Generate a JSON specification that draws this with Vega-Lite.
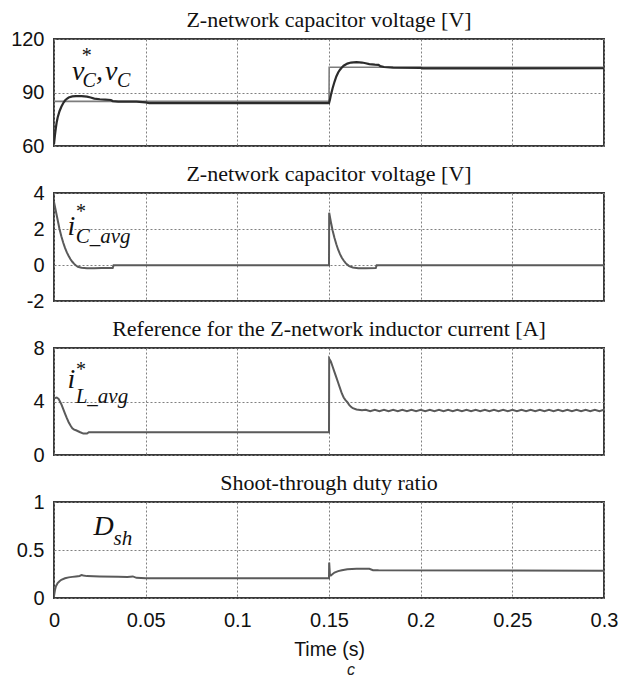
{
  "$schema": "https://vega.github.io/schema/vega-lite/v6.json",
  "padding": {"left": 8, "top": 8, "right": 10, "bottom": 2},
  "background": "white",
  "spacing": 5,
  "title": {"text": "c", "orient": "bottom", "anchor": "middle", "font": "Liberation Sans", "fontStyle": "italic", "fontSize": 16, "fontWeight": "normal", "color": "#222", "offset": 2, "dx": 22},
  "datasets": {
    "vc_ref": [
      {"t": 0, "v": 85}, {"t": 0.15, "v": 85}, {"t": 0.1501, "v": 104.2}, {"t": 0.3, "v": 104.2}
    ],
    "vc": [
      {"t": 0, "v": 61}, {"t": 0.0005, "v": 66}, {"t": 0.001, "v": 70}, {"t": 0.0015, "v": 73.5},
      {"t": 0.002, "v": 76}, {"t": 0.003, "v": 79.5}, {"t": 0.004, "v": 82}, {"t": 0.005, "v": 84},
      {"t": 0.006, "v": 85.5}, {"t": 0.007, "v": 86.5}, {"t": 0.008, "v": 87.2}, {"t": 0.01, "v": 87.8},
      {"t": 0.012, "v": 88}, {"t": 0.015, "v": 88}, {"t": 0.018, "v": 87.7}, {"t": 0.02, "v": 87.2},
      {"t": 0.022, "v": 86.6}, {"t": 0.025, "v": 86.2}, {"t": 0.028, "v": 86}, {"t": 0.031, "v": 85.8},
      {"t": 0.032, "v": 85.2}, {"t": 0.035, "v": 84.9}, {"t": 0.045, "v": 84.9}, {"t": 0.05, "v": 84.5},
      {"t": 0.052, "v": 84}, {"t": 0.1, "v": 84}, {"t": 0.12, "v": 84}, {"t": 0.15, "v": 84},
      {"t": 0.1505, "v": 86}, {"t": 0.151, "v": 88.5}, {"t": 0.152, "v": 92.5}, {"t": 0.153, "v": 96},
      {"t": 0.154, "v": 99}, {"t": 0.155, "v": 101.2}, {"t": 0.156, "v": 102.8}, {"t": 0.157, "v": 104},
      {"t": 0.158, "v": 105}, {"t": 0.16, "v": 106.2}, {"t": 0.162, "v": 106.8}, {"t": 0.165, "v": 107},
      {"t": 0.168, "v": 106.8}, {"t": 0.17, "v": 106.4}, {"t": 0.172, "v": 105.9}, {"t": 0.175, "v": 105.6},
      {"t": 0.177, "v": 105.5}, {"t": 0.178, "v": 104.8}, {"t": 0.18, "v": 104.3}, {"t": 0.185, "v": 104},
      {"t": 0.2, "v": 103.8}, {"t": 0.201, "v": 103.5}, {"t": 0.25, "v": 103.5}, {"t": 0.3, "v": 103.6}
    ],
    "ic": [
      {"t": 0, "v": 3.5}, {"t": 0.001, "v": 3.0}, {"t": 0.002, "v": 2.5}, {"t": 0.003, "v": 2.0},
      {"t": 0.004, "v": 1.6}, {"t": 0.005, "v": 1.25}, {"t": 0.006, "v": 0.95}, {"t": 0.007, "v": 0.7},
      {"t": 0.008, "v": 0.5}, {"t": 0.009, "v": 0.32}, {"t": 0.01, "v": 0.18}, {"t": 0.011, "v": 0.06},
      {"t": 0.012, "v": -0.03}, {"t": 0.013, "v": -0.1}, {"t": 0.015, "v": -0.15}, {"t": 0.018, "v": -0.18},
      {"t": 0.022, "v": -0.18}, {"t": 0.026, "v": -0.17}, {"t": 0.032, "v": -0.17}, {"t": 0.0325, "v": -0.02},
      {"t": 0.15, "v": -0.02}, {"t": 0.1501, "v": 2.9}, {"t": 0.151, "v": 2.4}, {"t": 0.152, "v": 1.9},
      {"t": 0.153, "v": 1.5}, {"t": 0.154, "v": 1.15}, {"t": 0.155, "v": 0.85}, {"t": 0.156, "v": 0.6},
      {"t": 0.157, "v": 0.4}, {"t": 0.158, "v": 0.25}, {"t": 0.159, "v": 0.12}, {"t": 0.16, "v": 0.02},
      {"t": 0.161, "v": -0.06}, {"t": 0.163, "v": -0.14}, {"t": 0.166, "v": -0.18}, {"t": 0.17, "v": -0.18},
      {"t": 0.1755, "v": -0.17}, {"t": 0.176, "v": -0.02}, {"t": 0.3, "v": -0.02}
    ],
    "il": [
      {"t": 0, "v": 4.25}, {"t": 0.0015, "v": 4.3}, {"t": 0.0025, "v": 4.2}, {"t": 0.004, "v": 3.8},
      {"t": 0.005, "v": 3.45}, {"t": 0.006, "v": 3.1}, {"t": 0.007, "v": 2.75}, {"t": 0.008, "v": 2.45},
      {"t": 0.009, "v": 2.2}, {"t": 0.01, "v": 2.0}, {"t": 0.011, "v": 1.9}, {"t": 0.012, "v": 1.85},
      {"t": 0.014, "v": 1.72}, {"t": 0.016, "v": 1.6}, {"t": 0.018, "v": 1.6}, {"t": 0.019, "v": 1.7},
      {"t": 0.15, "v": 1.7}, {"t": 0.1501, "v": 7.2}, {"t": 0.151, "v": 7.0}, {"t": 0.152, "v": 6.6},
      {"t": 0.153, "v": 6.2}, {"t": 0.154, "v": 5.8}, {"t": 0.155, "v": 5.4}, {"t": 0.156, "v": 5.0},
      {"t": 0.157, "v": 4.6}, {"t": 0.158, "v": 4.3}, {"t": 0.159, "v": 4.1}, {"t": 0.16, "v": 3.95},
      {"t": 0.161, "v": 3.75}, {"t": 0.162, "v": 3.6}, {"t": 0.163, "v": 3.5}, {"t": 0.165, "v": 3.4},
      {"t": 0.168, "v": 3.35},
      {"t": 0.17, "v": 3.38}, {"t": 0.1725, "v": 3.27}, {"t": 0.175, "v": 3.38}, {"t": 0.1775, "v": 3.27},
      {"t": 0.18, "v": 3.38}, {"t": 0.1825, "v": 3.27}, {"t": 0.185, "v": 3.38}, {"t": 0.1875, "v": 3.27},
      {"t": 0.19, "v": 3.38}, {"t": 0.1925, "v": 3.27}, {"t": 0.195, "v": 3.38}, {"t": 0.1975, "v": 3.27},
      {"t": 0.2, "v": 3.38}, {"t": 0.2025, "v": 3.27}, {"t": 0.205, "v": 3.38}, {"t": 0.2075, "v": 3.27},
      {"t": 0.21, "v": 3.38}, {"t": 0.2125, "v": 3.27}, {"t": 0.215, "v": 3.38}, {"t": 0.2175, "v": 3.27},
      {"t": 0.22, "v": 3.38}, {"t": 0.2225, "v": 3.27}, {"t": 0.225, "v": 3.38}, {"t": 0.2275, "v": 3.27},
      {"t": 0.23, "v": 3.38}, {"t": 0.2325, "v": 3.27}, {"t": 0.235, "v": 3.38}, {"t": 0.2375, "v": 3.27},
      {"t": 0.24, "v": 3.38}, {"t": 0.2425, "v": 3.27}, {"t": 0.245, "v": 3.38}, {"t": 0.2475, "v": 3.27},
      {"t": 0.25, "v": 3.38}, {"t": 0.2525, "v": 3.27}, {"t": 0.255, "v": 3.38}, {"t": 0.2575, "v": 3.27},
      {"t": 0.26, "v": 3.38}, {"t": 0.2625, "v": 3.27}, {"t": 0.265, "v": 3.38}, {"t": 0.2675, "v": 3.27},
      {"t": 0.27, "v": 3.38}, {"t": 0.2725, "v": 3.27}, {"t": 0.275, "v": 3.38}, {"t": 0.2775, "v": 3.27},
      {"t": 0.28, "v": 3.38}, {"t": 0.2825, "v": 3.27}, {"t": 0.285, "v": 3.38}, {"t": 0.2875, "v": 3.27},
      {"t": 0.29, "v": 3.38}, {"t": 0.2925, "v": 3.27}, {"t": 0.295, "v": 3.38}, {"t": 0.2975, "v": 3.27},
      {"t": 0.3, "v": 3.38}
    ],
    "dsh": [
      {"t": 0, "v": 0.02}, {"t": 0.0005, "v": 0.08}, {"t": 0.001, "v": 0.12}, {"t": 0.002, "v": 0.155},
      {"t": 0.003, "v": 0.175}, {"t": 0.004, "v": 0.19}, {"t": 0.006, "v": 0.205}, {"t": 0.008, "v": 0.215},
      {"t": 0.01, "v": 0.22}, {"t": 0.012, "v": 0.225}, {"t": 0.014, "v": 0.23}, {"t": 0.015, "v": 0.24},
      {"t": 0.016, "v": 0.235}, {"t": 0.018, "v": 0.228}, {"t": 0.025, "v": 0.225}, {"t": 0.035, "v": 0.222},
      {"t": 0.04, "v": 0.22}, {"t": 0.043, "v": 0.225}, {"t": 0.045, "v": 0.21}, {"t": 0.05, "v": 0.205},
      {"t": 0.15, "v": 0.205}, {"t": 0.1501, "v": 0.37}, {"t": 0.1505, "v": 0.24}, {"t": 0.151, "v": 0.235},
      {"t": 0.152, "v": 0.25}, {"t": 0.153, "v": 0.265}, {"t": 0.155, "v": 0.28}, {"t": 0.157, "v": 0.29},
      {"t": 0.16, "v": 0.3}, {"t": 0.165, "v": 0.305}, {"t": 0.172, "v": 0.305}, {"t": 0.174, "v": 0.29},
      {"t": 0.177, "v": 0.288}, {"t": 0.3, "v": 0.285}
    ]
  },
  "vconcat": [
    {
      "title": "Z-network capacitor voltage [V]",
      "width": 550,
      "height": 107,
      "layer": [
        {
          "data": {"name": "vc_ref"},
          "mark": {"type": "line", "color": "#7d7d7d", "strokeWidth": 1.6, "clip": true},
          "encoding": {
            "x": {"field": "t", "type": "quantitative", "scale": {"domain": [0, 0.3], "nice": false, "zero": false},
                  "axis": {"values": [0, 0.05, 0.1, 0.15, 0.2, 0.25, 0.3], "tickCount": 20, "labels": false, "title": null, "minExtent": 0, "maxExtent": 0}},
            "y": {"field": "v", "type": "quantitative", "scale": {"domain": [60, 120], "nice": false, "zero": false},
                  "axis": {"values": [60, 90, 120], "tickCount": 10, "title": null, "minExtent": 45, "maxExtent": 45, "labelOverlap": false, "labelExpr": "'' + datum.value"}}
          }
        },
        {
          "data": {"name": "vc"},
          "mark": {"type": "line", "color": "#2b2b2b", "strokeWidth": 2.2, "clip": true},
          "encoding": {"x": {"field": "t", "type": "quantitative"}, "y": {"field": "v", "type": "quantitative"}}
        },
        {
          "data": {"values": [{"t": 0.0132, "v": 97, "txt": "v"}, {"t": 0.0248, "v": 97, "txt": ","}, {"t": 0.0312, "v": 97, "txt": "v"}]},
          "mark": {"type": "text", "font": "Liberation Serif", "fontStyle": "italic", "fontSize": 28, "color": "#111", "baseline": "alphabetic", "align": "center"},
          "encoding": {"x": {"field": "t", "type": "quantitative"}, "y": {"field": "v", "type": "quantitative"}, "text": {"field": "txt"}}
        },
        {
          "data": {"values": [{"t": 0.0192, "v": 93, "txt": "C"}, {"t": 0.0380, "v": 93, "txt": "C"}]},
          "mark": {"type": "text", "font": "Liberation Serif", "fontStyle": "italic", "fontSize": 20, "color": "#111", "baseline": "alphabetic", "align": "center"},
          "encoding": {"x": {"field": "t", "type": "quantitative"}, "y": {"field": "v", "type": "quantitative"}, "text": {"field": "txt"}}
        },
        {
          "data": {"values": [{"t": 0.0178, "v": 107, "txt": "*"}]},
          "mark": {"type": "text", "font": "Liberation Serif", "fontSize": 20, "color": "#111", "baseline": "alphabetic", "align": "center"},
          "encoding": {"x": {"field": "t", "type": "quantitative"}, "y": {"field": "v", "type": "quantitative"}, "text": {"field": "txt"}}
        }
      ]
    },
    {
      "title": "Z-network capacitor voltage [V]",
      "width": 550,
      "height": 108,
      "layer": [
        {
          "data": {"name": "ic"},
          "mark": {"type": "line", "color": "#5a5a5a", "strokeWidth": 2, "clip": true},
          "encoding": {
            "x": {"field": "t", "type": "quantitative", "scale": {"domain": [0, 0.3], "nice": false, "zero": false},
                  "axis": {"values": [0, 0.05, 0.1, 0.15, 0.2, 0.25, 0.3], "tickCount": 20, "labels": false, "title": null, "minExtent": 0, "maxExtent": 0}},
            "y": {"field": "v", "type": "quantitative", "scale": {"domain": [-2, 4], "nice": false, "zero": false},
                  "axis": {"values": [-2, 0, 2, 4], "tickCount": 10, "title": null, "minExtent": 45, "maxExtent": 45, "labelOverlap": false, "labelExpr": "'' + datum.value"}}
          }
        },
        {
          "data": {"values": [{"t": 0.0095, "v": 1.67, "txt": "i"}]},
          "mark": {"type": "text", "font": "Liberation Serif", "fontStyle": "italic", "fontSize": 28, "color": "#111", "baseline": "alphabetic", "align": "center"},
          "encoding": {"x": {"field": "t", "type": "quantitative"}, "y": {"field": "v", "type": "quantitative"}, "text": {"field": "txt"}}
        },
        {
          "data": {"values": [{"t": 0.0118, "v": 1.2, "txt": "C_avg"}]},
          "mark": {"type": "text", "font": "Liberation Serif", "fontStyle": "italic", "fontSize": 21, "color": "#111", "baseline": "alphabetic", "align": "left"},
          "encoding": {"x": {"field": "t", "type": "quantitative"}, "y": {"field": "v", "type": "quantitative"}, "text": {"field": "txt"}}
        },
        {
          "data": {"values": [{"t": 0.0147, "v": 2.6, "txt": "*"}]},
          "mark": {"type": "text", "font": "Liberation Serif", "fontSize": 20, "color": "#111", "baseline": "alphabetic", "align": "center"},
          "encoding": {"x": {"field": "t", "type": "quantitative"}, "y": {"field": "v", "type": "quantitative"}, "text": {"field": "txt"}}
        }
      ]
    },
    {
      "title": "Reference for the Z-network inductor current [A]",
      "width": 550,
      "height": 107,
      "layer": [
        {
          "data": {"name": "il"},
          "mark": {"type": "line", "color": "#5a5a5a", "strokeWidth": 2, "clip": true},
          "encoding": {
            "x": {"field": "t", "type": "quantitative", "scale": {"domain": [0, 0.3], "nice": false, "zero": false},
                  "axis": {"values": [0, 0.05, 0.1, 0.15, 0.2, 0.25, 0.3], "tickCount": 20, "labels": false, "title": null, "minExtent": 0, "maxExtent": 0}},
            "y": {"field": "v", "type": "quantitative", "scale": {"domain": [0, 8], "nice": false, "zero": false},
                  "axis": {"values": [0, 4, 8], "tickCount": 10, "title": null, "minExtent": 45, "maxExtent": 45, "labelOverlap": false, "labelExpr": "'' + datum.value"}}
          }
        },
        {
          "data": {"values": [{"t": 0.0095, "v": 5.0, "txt": "i"}]},
          "mark": {"type": "text", "font": "Liberation Serif", "fontStyle": "italic", "fontSize": 28, "color": "#111", "baseline": "alphabetic", "align": "center"},
          "encoding": {"x": {"field": "t", "type": "quantitative"}, "y": {"field": "v", "type": "quantitative"}, "text": {"field": "txt"}}
        },
        {
          "data": {"values": [{"t": 0.0118, "v": 3.9, "txt": "L_avg"}]},
          "mark": {"type": "text", "font": "Liberation Serif", "fontStyle": "italic", "fontSize": 21, "color": "#111", "baseline": "alphabetic", "align": "left"},
          "encoding": {"x": {"field": "t", "type": "quantitative"}, "y": {"field": "v", "type": "quantitative"}, "text": {"field": "txt"}}
        },
        {
          "data": {"values": [{"t": 0.0147, "v": 5.9, "txt": "*"}]},
          "mark": {"type": "text", "font": "Liberation Serif", "fontSize": 20, "color": "#111", "baseline": "alphabetic", "align": "center"},
          "encoding": {"x": {"field": "t", "type": "quantitative"}, "y": {"field": "v", "type": "quantitative"}, "text": {"field": "txt"}}
        }
      ]
    },
    {
      "title": "Shoot-through duty ratio",
      "width": 550,
      "height": 96,
      "layer": [
        {
          "data": {"name": "dsh"},
          "mark": {"type": "line", "color": "#5a5a5a", "strokeWidth": 2, "clip": true},
          "encoding": {
            "x": {"field": "t", "type": "quantitative", "scale": {"domain": [0, 0.3], "nice": false, "zero": false},
                  "axis": {"values": [0, 0.05, 0.1, 0.15, 0.2, 0.25, 0.3], "tickCount": 20, "labelExpr": "'' + datum.value", "labelFlush": false, "labelOverlap": false,
                           "labelPadding": 12, "title": "Time (s)", "titleFont": "Liberation Sans", "titleFontSize": 19.5,
                           "titleFontWeight": "normal", "titleColor": "#111", "titlePadding": 10}},
            "y": {"field": "v", "type": "quantitative", "scale": {"domain": [0, 1], "nice": false, "zero": false},
                  "axis": {"values": [0, 0.5, 1], "tickCount": 10, "title": null, "minExtent": 45, "maxExtent": 45, "labelOverlap": false, "labelExpr": "'' + datum.value"}}
          }
        },
        {
          "data": {"values": [{"t": 0.027, "v": 0.656, "txt": "D"}]},
          "mark": {"type": "text", "font": "Liberation Serif", "fontStyle": "italic", "fontSize": 28, "color": "#111", "baseline": "alphabetic", "align": "center"},
          "encoding": {"x": {"field": "t", "type": "quantitative"}, "y": {"field": "v", "type": "quantitative"}, "text": {"field": "txt"}}
        },
        {
          "data": {"values": [{"t": 0.0325, "v": 0.55, "txt": "sh"}]},
          "mark": {"type": "text", "font": "Liberation Serif", "fontStyle": "italic", "fontSize": 21, "color": "#111", "baseline": "alphabetic", "align": "left"},
          "encoding": {"x": {"field": "t", "type": "quantitative"}, "y": {"field": "v", "type": "quantitative"}, "text": {"field": "txt"}}
        }
      ]
    }
  ],
  "config": {
    "view": {"stroke": "#3a3a3a", "strokeWidth": 2},
    "axis": {
      "labelFont": "Liberation Sans", "labelFontSize": 20, "labelColor": "#111",
      "ticks": false, "domain": false, "labelPadding": 10,
      "grid": true, "gridColor": "#808080", "gridDash": [2, 2], "gridWidth": 1, "gridOpacity": 1
    },
    "title": {"font": "Liberation Serif", "fontSize": 22, "fontWeight": "normal", "color": "#111", "frame": "group", "anchor": "middle", "offset": -3}
  }
}
